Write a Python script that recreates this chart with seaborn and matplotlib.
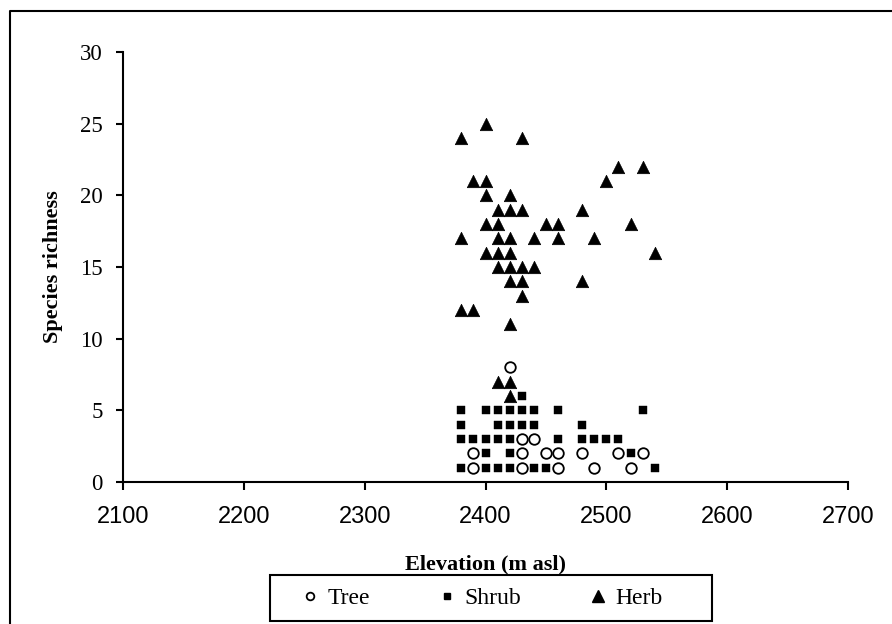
import matplotlib
matplotlib.use("Agg")
import matplotlib.pyplot as plt
import seaborn as sns
import pandas as pd
from matplotlib.lines import Line2D
from matplotlib.patches import Rectangle

# ---- data ----
tree_x = [2420, 2430, 2440, 2390, 2430, 2450, 2460, 2480, 2510, 2530,
          2390, 2430, 2460, 2490, 2520]
tree_y = [8, 3, 3, 2, 2, 2, 2, 2, 2, 2,
          1, 1, 1, 1, 1]

shrub_x = [2430,
           2380, 2400, 2410, 2420, 2430, 2440, 2460, 2530,
           2380, 2410, 2420, 2430, 2440, 2480,
           2380, 2390, 2400, 2410, 2420, 2460, 2480, 2490, 2500, 2510,
           2400, 2420, 2520,
           2380, 2400, 2410, 2420, 2440, 2450, 2540]
shrub_y = [6,
           5, 5, 5, 5, 5, 5, 5, 5,
           4, 4, 4, 4, 4, 4,
           3, 3, 3, 3, 3, 3, 3, 3, 3, 3,
           2, 2, 2,
           1, 1, 1, 1, 1, 1, 1]

herb_x = [2380, 2400, 2430, 2510, 2530, 2390, 2400, 2500, 2400, 2420,
          2410, 2420, 2430, 2480, 2400, 2410, 2450, 2460, 2520, 2380,
          2410, 2420, 2440, 2460, 2490, 2400, 2410, 2420, 2540, 2410,
          2420, 2430, 2440, 2420, 2430, 2480, 2430, 2380, 2390, 2420,
          2410, 2420, 2420]
herb_y = [24, 25, 24, 22, 22, 21, 21, 21, 20, 20,
          19, 19, 19, 19, 18, 18, 18, 18, 18, 17,
          17, 17, 17, 17, 17, 16, 16, 16, 16, 15,
          15, 15, 15, 14, 14, 14, 13, 12, 12, 11,
          7, 7, 6]

series_names = ["Tree", "Shrub", "Herb"]
x_ticks = [2100, 2200, 2300, 2400, 2500, 2600, 2700]
y_ticks = [0, 5, 10, 15, 20, 25, 30]

tree_df = pd.DataFrame({"Elevation": tree_x, "Richness": tree_y})
shrub_df = pd.DataFrame({"Elevation": shrub_x, "Richness": shrub_y})
herb_df = pd.DataFrame({"Elevation": herb_x, "Richness": herb_y})

# ---- style ----
sns.set_style("ticks")
plt.rcParams['font.family'] = ['Liberation Serif', 'DejaVu Serif']
plt.rcParams['text.color'] = 'black'
plt.rcParams['axes.labelcolor'] = 'black'
plt.rcParams['xtick.color'] = 'black'
plt.rcParams['ytick.color'] = 'black'
plt.rcParams['axes.edgecolor'] = 'black'

W, H = 892, 624
fig = plt.figure(figsize=(W / 100, H / 100), dpi=100)
ax = fig.add_axes([123 / W, (H - 482) / H, 725 / W, 430 / H])

sns.scatterplot(data=tree_df, x="Elevation", y="Richness", marker='o', s=58,
                color='white', edgecolor='black', linewidth=1.3, ax=ax,
                zorder=3, legend=False)
sns.scatterplot(data=shrub_df, x="Elevation", y="Richness", marker='s', s=33,
                color='black', edgecolor='black', linewidth=0.3, ax=ax,
                zorder=3, legend=False)
sns.scatterplot(data=herb_df, x="Elevation", y="Richness", marker='^', s=80,
                color='black', edgecolor='black', linewidth=0.5, ax=ax,
                zorder=4, legend=False)

ax.set_xlim(2100, 2700)
ax.set_ylim(0, 30)
ax.set_xticks(x_ticks, labels=[str(t) for t in x_ticks],
              fontfamily=['Liberation Sans', 'DejaVu Sans'], fontsize=17,
              color='black')
ax.set_yticks(y_ticks, labels=[str(t) for t in y_ticks],
              fontfamily=['Liberation Serif', 'DejaVu Serif'], fontsize=16.5,
              color='black')
ax.tick_params(axis='x', length=5.5, width=1.5, pad=12, colors='black')
ax.tick_params(axis='y', length=5, width=1.5, pad=9.5, colors='black')
sns.despine(ax=ax)
for sp in ['left', 'bottom']:
    ax.spines[sp].set_linewidth(1.5)
    ax.spines[sp].set_color('black')

ax.set_xlabel("Elevation (m asl)", fontsize=16, fontweight='bold', color='black')
ax.set_ylabel("Species richness", fontsize=16, fontweight='bold', color='black')
ax.xaxis.set_label_coords(0.5, (482 - 564) / 430)
ax.xaxis.label.set_va('center')
ax.yaxis.set_label_coords((53 - 123) / 725, 0.5)
ax.yaxis.label.set_va('center')

# ---- legend ----
handles = [
    Line2D([], [], linestyle='none', marker='o', markersize=5.5,
           markerfacecolor='white', markeredgecolor='black', markeredgewidth=1.3),
    Line2D([], [], linestyle='none', marker='s', markersize=4.5,
           markerfacecolor='black', markeredgecolor='black'),
    Line2D([], [], linestyle='none', marker='^', markersize=8,
           markerfacecolor='black', markeredgecolor='black'),
]
leg = fig.legend(handles, series_names, loc='center',
                 bbox_to_anchor=(483.5 / W, 1 - 598 / H), ncol=3, frameon=False,
                 fontsize=17, handlelength=0.5, handletextpad=0.5,
                 columnspacing=3.0, borderpad=0)
for t in leg.get_texts():
    t.set_color('black')
fig.add_artist(Rectangle((270 / W, 1 - 621 / H), 442 / W, 46 / H,
                         transform=fig.transFigure, fill=False,
                         edgecolor='black', linewidth=1.5))

# outer frame (left and top edges)
fig.add_artist(Line2D([10 / W, 10 / W, 1], [0, 1 - 11 / H, 1 - 11 / H],
                      transform=fig.transFigure, color='black', linewidth=1.5))

fig.savefig("out.png", dpi=100)
